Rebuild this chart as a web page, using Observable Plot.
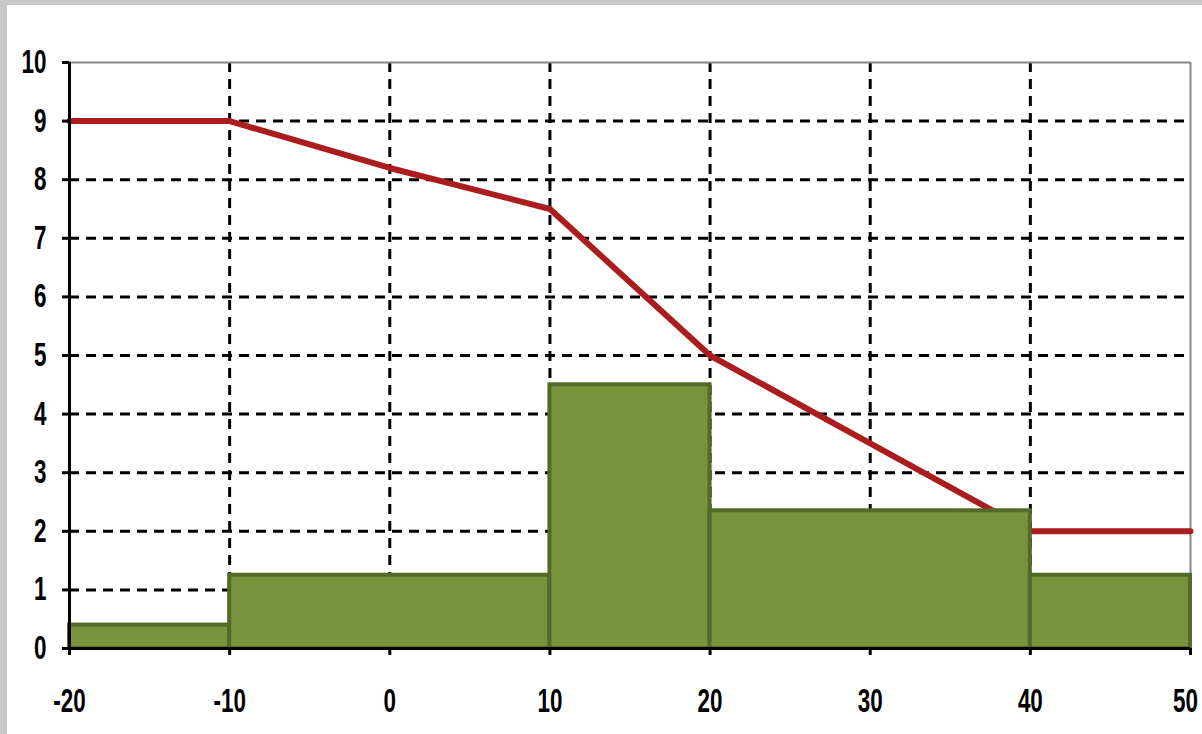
<!DOCTYPE html>
<html>
<head>
<meta charset="utf-8">
<script src="https://cdn.jsdelivr.net/npm/d3@7"></script>
<script src="https://cdn.jsdelivr.net/npm/@observablehq/plot@0.6"></script>
<style>
  html, body { margin: 0; padding: 0; background: #c9c9c9; }
  #wrap { position: absolute; left: 7px; top: 5px; width: 1195px; height: 729px; background: #fff; overflow: hidden; }
  svg { display: block; }
</style>
</head>
<body>
<div id="wrap"></div>
<script>
// Histogram bins (x-range) and heights
const binStart = [-20, -10, 10, 20, 40];
const binEnd   = [-10, 10, 20, 40, 50];
const binValue = [0.4, 1.25, 4.5, 2.35, 1.25];

// Red curve
const lineX = [-20, -10, 0, 10, 20, 30, 40, 50];
const lineY = [9, 9, 8.2, 7.5, 5, 3.5, 2, 2];

// Tick labels
const xTicks = [-20, -10, 0, 10, 20, 30, 40, 50];
const yTicks = [0, 1, 2, 3, 4, 5, 6, 7, 8, 9, 10];

const bins = binStart.map((s, i) => ({x1: s, x2: binEnd[i], y: binValue[i]}));
const curve = lineX.map((x, i) => ({x, y: lineY[i]}));

const W = 1195, H = 729;
const chart = Plot.plot({
  width: W,
  height: H,
  marginLeft: 62,
  marginRight: 12,
  marginTop: 57,
  marginBottom: 86,
  style: {background: "#fff", fontFamily: "'Liberation Sans', Arial, sans-serif", fontSize: "33px", fontWeight: "bold", color: "#000", overflow: "visible"},
  x: {domain: [-20, 50], ticks: xTicks},
  y: {domain: [0, 10], ticks: yTicks},
  marks: [
    Plot.gridX(xTicks.filter(d => d > -20 && d < 50), {stroke: "#000", strokeOpacity: 1, strokeWidth: 3, strokeDasharray: "10,7"}),
    Plot.gridY(yTicks.filter(d => d > 0 && d < 10), {stroke: "#000", strokeOpacity: 1, strokeWidth: 3, strokeDasharray: "10,7"}),
    Plot.ruleY([10], {stroke: "#888", strokeWidth: 2}),
    Plot.ruleX([50], {stroke: "#888", strokeWidth: 2}),
    Plot.line(curve, {x: "x", y: "y", stroke: "#ab1d1d", strokeWidth: 6, strokeLinejoin: "round"}),
    Plot.rect(bins, {x1: "x1", x2: "x2", y1: 0, y2: "y", fill: "#77933c", stroke: "#536a29", strokeWidth: 4}),
    Plot.ruleX([-20], {stroke: "#000", strokeWidth: 3}),
    Plot.ruleY([0], {stroke: "#000", strokeWidth: 3}),
    Plot.axisX({ticks: xTicks, tickSize: 7, tickPadding: 33, strokeWidth: 3, label: null, tickFormat: d => String(d)}),
    Plot.axisY({ticks: yTicks, tickSize: 7, tickPadding: 16, strokeWidth: 3, label: null})
  ]
});
// narrow the tick-label glyphs to match the condensed look of the original
d3.select(chart).selectAll("g[aria-label$='tick label'] text").each(function() {
  let t = this.getAttribute("transform") || "";
  if (this.textContent === "50") {
    // keep the right-most label inside the page
    t = t.replace(/translate\(([-\d.]+),/, (m, x) => `translate(${+x - 5},`);
  }
  this.setAttribute("transform", t + " scale(0.68,1)");
});
document.getElementById("wrap").appendChild(chart);
</script>
</body>
</html>
